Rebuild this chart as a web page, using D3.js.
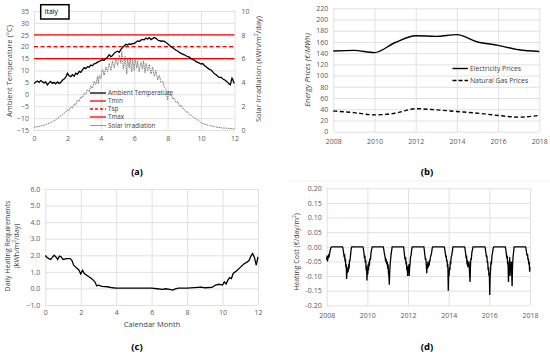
<!DOCTYPE html>
<html>
<head>
<meta charset="utf-8">
<script src="https://cdn.jsdelivr.net/npm/d3@7"></script>
<style>
  body { margin: 0; background: #fff; }
  svg text { font-family: "Open Sans", "Noto Sans", sans-serif; }
</style>
</head>
<body>
<div id="chart"></div>
<script>
// (a) ambient temperature and solar irradiation, Italy (month, value)
var tempData = [
  [0.0,4.5],[0.1,5.2],[0.2,5.6],[0.3,5.0],[0.4,5.8],[0.5,5.3],[0.6,4.8],[0.7,5.2],[0.8,4.0],[0.9,4.8],
  [1.0,5.4],[1.1,4.6],[1.2,5.0],[1.3,4.4],[1.4,5.2],[1.5,4.6],[1.6,5.0],[1.7,5.9],[1.8,6.4],[1.9,7.2],
  [2.0,8.8],[2.1,7.8],[2.2,7.4],[2.3,8.2],[2.4,7.6],[2.5,8.9],[2.6,8.4],[2.7,9.6],[2.8,9.2],[2.9,10.3],
  [3.0,11.2],[3.1,10.8],[3.2,11.6],[3.3,11.4],[3.4,12.3],[3.5,12.0],[3.6,12.8],[3.7,13.0],[3.8,13.5],[3.9,13.8],
  [4.0,14.2],[4.1,14.5],[4.2,14.3],[4.3,15.0],[4.4,15.6],[4.5,16.6],[4.6,15.8],[4.7,16.3],[4.8,17.2],[4.9,17.8],
  [5.0,18.1],[5.1,17.6],[5.2,18.9],[5.3,19.6],[5.4,20.4],[5.5,21.0],[5.6,20.7],[5.7,21.2],[5.8,20.9],[5.9,21.4],
  [6.0,21.3],[6.1,21.9],[6.2,22.4],[6.3,22.2],[6.4,22.8],[6.5,23.1],[6.6,22.9],[6.7,23.6],[6.8,23.2],[6.9,23.8],
  [7.0,23.0],[7.1,23.4],[7.2,23.9],[7.3,23.5],[7.4,22.8],[7.5,22.5],[7.6,22.3],[7.7,22.4],[7.8,22.2],[7.9,21.8],
  [8.0,21.2],[8.1,20.6],[8.2,20.0],[8.3,19.6],[8.4,19.0],[8.5,18.5],[8.6,18.2],[8.7,17.6],[8.8,17.2],[8.9,16.9],
  [9.0,16.6],[9.1,16.2],[9.2,15.8],[9.3,15.6],[9.4,15.0],[9.5,14.6],[9.6,14.4],[9.7,13.7],[9.8,13.4],[9.9,13.1],
  [10.0,12.7],[10.1,12.9],[10.2,12.1],[10.3,11.6],[10.4,11.0],[10.5,10.5],[10.6,10.2],[10.7,9.4],[10.8,8.6],[10.9,8.2],
  [11.0,7.6],[11.1,7.0],[11.2,7.2],[11.3,6.4],[11.4,6.1],[11.5,5.6],[11.6,5.0],[11.7,4.2],[11.75,4.0],[11.8,5.4],
  [11.85,6.8],[11.9,6.2],[11.95,5.0],[12.0,4.6]
];
var solarData = [
  [0.0,0.22],[0.3,0.3],[0.6,0.4],[1.0,0.62],[1.3,0.85],[1.5,1.1],[1.7,1.3],[1.9,1.5],[2.0,1.75],[2.1,1.6],
  [2.2,1.95],[2.3,1.85],[2.4,2.2],[2.5,2.1],[2.6,2.5],[2.7,2.4],[2.8,2.8],[2.9,2.7],[3.0,3.1],[3.1,3.0],
  [3.2,3.4],[3.3,3.2],[3.4,3.7],[3.5,3.5],[3.6,4.1],[3.7,3.8],[3.8,4.5],[3.85,3.9],[3.9,4.6],[4.0,4.3],
  [4.1,5.1],[4.2,4.6],[4.3,5.3],[4.4,4.9],[4.5,5.6],[4.6,5.0],[4.7,5.8],[4.8,5.2],[4.9,6.0],[5.0,5.4],
  [5.1,6.3],[5.2,5.6],[5.25,6.6],[5.35,5.1],[5.45,6.2],[5.55,4.7],[5.6,6.0],[5.7,5.2],[5.75,6.1],[5.85,4.9],
  [5.9,5.9],[6.0,5.0],[6.05,6.0],[6.15,5.2],[6.2,5.8],[6.3,4.9],[6.4,5.7],[6.5,5.1],[6.55,5.8],[6.65,4.8],
  [6.7,5.6],[6.8,5.0],[6.9,5.5],[7.0,4.7],[7.1,5.3],[7.2,4.5],[7.3,5.0],[7.4,4.2],[7.5,4.6],[7.6,4.0],
  [7.7,4.1],[7.8,3.6],[7.9,3.4],[8.0,2.5],[8.05,3.3],[8.1,2.9],[8.2,3.0],[8.3,2.6],[8.4,2.7],[8.5,2.3],
  [8.6,2.4],[8.7,2.0],[8.8,2.1],[8.9,1.8],[9.0,1.75],[9.1,1.5],[9.2,1.55],[9.3,1.3],[9.4,1.25],[9.5,1.1],
  [9.6,1.05],[9.8,0.85],[10.0,0.6],[10.2,0.5],[10.5,0.38],[10.8,0.28],[11.0,0.22],[11.3,0.17],[11.6,0.14],[12.0,0.1]
];
var tMin = 15, tSp = 20, tMax = 25;
var legendA = ["Ambient Temperature", "Tmin", "Tsp", "Tmax", "Solar Irradiation"];

// (b) energy prices
var years = [2008, 2009, 2010, 2011, 2012, 2013, 2014, 2015, 2016, 2017, 2018];
var elecPrices = [144, 145, 141, 159, 171, 170, 173, 160, 154, 146, 143];
var gasPrices = [37, 34, 30, 33, 41, 39, 36, 33, 29, 26, 29];
var legendB = ["Electricity Prices", "Natural Gas Prices"];

// (c) daily heating requirements (month, kWh/m2/day)
var heatData = [
  [0.0,1.99],[0.1,1.87],[0.2,1.8],[0.3,1.75],[0.4,1.87],[0.5,2.0],[0.6,1.9],[0.7,1.75],[0.8,1.95],[0.9,1.9],
  [1.0,1.75],[1.2,1.8],[1.4,1.8],[1.5,1.7],[1.6,1.4],[1.7,1.3],[1.8,1.2],[1.9,1.1],[2.0,0.87],[2.1,1.1],
  [2.2,0.9],[2.4,0.75],[2.6,0.6],[2.7,0.5],[2.8,0.4],[2.9,0.15],[3.0,0.2],[3.2,0.12],[3.5,0.1],[3.8,0.04],
  [4.0,0.02],[5.0,0.02],[6.0,0.02],[6.3,-0.02],[6.6,-0.06],[6.8,-0.02],[7.0,-0.06],[7.2,-0.1],[7.3,-0.04],[7.5,0.02],
  [8.0,0.02],[8.8,0.08],[9.0,0.04],[9.4,0.06],[9.6,0.2],[9.8,0.25],[10.0,0.2],[10.1,0.4],[10.2,0.27],[10.3,0.5],
  [10.4,0.65],[10.5,0.6],[10.6,0.9],[10.8,1.07],[11.0,1.27],[11.2,1.47],[11.4,1.6],[11.5,1.7],[11.6,1.95],[11.7,2.1],
  [11.8,1.87],[11.9,1.4],[12.0,1.9]
];

// (d) heating cost (year, EUR/day/m2)
var costData = [
  [2008.00,-0.045],[2008.02,-0.03],[2008.04,-0.05],[2008.06,-0.035],[2008.08,-0.04],[2008.10,-0.025],[2008.12,-0.035],[2008.15,-0.02],[2008.18,-0.01],[2008.21,-0.002],[2008.25,0],[2008.78,0],
  [2008.80,-0.005],[2008.83,-0.02],[2008.86,-0.035],[2008.88,-0.025],[2008.90,-0.05],[2008.92,-0.04],[2008.94,-0.07],[2008.96,-0.06],[2008.98,-0.11],[2009.00,-0.075],[2009.02,-0.09],[2009.04,-0.07],[2009.06,-0.085],[2009.08,-0.06],[2009.10,-0.075],[2009.12,-0.045],[2009.14,-0.05],[2009.17,-0.03],[2009.20,-0.01],[2009.23,0],[2009.78,0],
  [2009.80,-0.005],[2009.83,-0.02],[2009.86,-0.04],[2009.88,-0.03],[2009.90,-0.055],[2009.92,-0.045],[2009.94,-0.08],[2009.96,-0.065],[2009.98,-0.115],[2010.00,-0.08],[2010.02,-0.095],[2010.04,-0.06],[2010.06,-0.08],[2010.08,-0.05],[2010.10,-0.065],[2010.12,-0.04],[2010.15,-0.045],[2010.18,-0.02],[2010.21,-0.01],[2010.24,0],[2010.78,0],
  [2010.80,-0.005],[2010.83,-0.02],[2010.86,-0.03],[2010.89,-0.045],[2010.92,-0.04],[2010.95,-0.06],[2010.98,-0.05],[2011.00,-0.075],[2011.02,-0.06],[2011.04,-0.09],[2011.06,-0.1],[2011.08,-0.13],[2011.10,-0.085],[2011.12,-0.06],[2011.14,-0.045],[2011.16,-0.03],[2011.19,-0.015],[2011.22,0],[2011.78,0],
  [2011.80,-0.01],[2011.83,-0.03],[2011.86,-0.045],[2011.88,-0.035],[2011.90,-0.06],[2011.92,-0.05],[2011.94,-0.08],[2011.96,-0.065],[2011.98,-0.1],[2012.00,-0.07],[2012.02,-0.09],[2012.04,-0.06],[2012.06,-0.1],[2012.08,-0.07],[2012.10,-0.06],[2012.12,-0.035],[2012.15,-0.03],[2012.18,-0.01],[2012.21,0],[2012.78,0],
  [2012.80,-0.01],[2012.83,-0.03],[2012.86,-0.045],[2012.88,-0.04],[2012.90,-0.065],[2012.92,-0.09],[2012.94,-0.06],[2012.96,-0.075],[2012.98,-0.05],[2013.00,-0.07],[2013.02,-0.055],[2013.04,-0.065],[2013.06,-0.045],[2013.08,-0.05],[2013.10,-0.035],[2013.13,-0.03],[2013.16,-0.02],[2013.19,-0.005],[2013.22,0],[2013.78,0],
  [2013.80,-0.005],[2013.83,-0.02],[2013.86,-0.035],[2013.88,-0.03],[2013.90,-0.05],[2013.92,-0.045],[2013.94,-0.07],[2013.96,-0.06],[2013.98,-0.15],[2014.00,-0.09],[2014.02,-0.1],[2014.04,-0.07],[2014.06,-0.08],[2014.08,-0.05],[2014.10,-0.06],[2014.12,-0.035],[2014.15,-0.03],[2014.18,-0.015],[2014.21,0],[2014.78,0],
  [2014.80,-0.005],[2014.83,-0.02],[2014.86,-0.04],[2014.88,-0.03],[2014.90,-0.06],[2014.92,-0.045],[2014.94,-0.07],[2014.96,-0.055],[2014.98,-0.065],[2015.00,-0.05],[2015.02,-0.08],[2015.05,-0.12],[2015.07,-0.07],[2015.09,-0.04],[2015.11,-0.045],[2015.14,-0.02],[2015.17,-0.01],[2015.20,0],[2015.78,0],
  [2015.80,-0.005],[2015.83,-0.02],[2015.86,-0.035],[2015.88,-0.03],[2015.90,-0.055],[2015.92,-0.05],[2015.94,-0.08],[2015.96,-0.07],[2015.98,-0.1],[2016.00,-0.09],[2016.02,-0.165],[2016.04,-0.1],[2016.06,-0.08],[2016.08,-0.05],[2016.10,-0.06],[2016.13,-0.03],[2016.16,-0.02],[2016.19,-0.005],[2016.22,0],[2016.78,0],
  [2016.80,-0.005],[2016.83,-0.02],[2016.86,-0.04],[2016.88,-0.03],[2016.90,-0.06],[2016.92,-0.05],[2016.94,-0.12],[2016.96,-0.07],[2016.98,-0.09],[2017.00,-0.035],[2017.02,-0.1],[2017.04,-0.06],[2017.06,-0.08],[2017.08,-0.05],[2017.10,-0.09],[2017.12,-0.135],[2017.14,-0.07],[2017.16,-0.04],[2017.19,-0.02],[2017.22,0],[2017.78,0],
  [2017.80,-0.005],[2017.83,-0.02],[2017.86,-0.03],[2017.88,-0.025],[2017.90,-0.045],[2017.92,-0.04],[2017.94,-0.06],[2017.96,-0.05],[2017.98,-0.085],[2018.00,-0.07]
];

var monthTicks = [0, 2, 4, 6, 8, 10, 12];
var yearTicks = [2008, 2010, 2012, 2014, 2016, 2018];

var svg = d3.select('#chart').append('svg')
    .attr('width', 550)
    .attr('height', 356);

var gridColor = '#d9d9d9';
var labelColor = '#595959';

// gridlines + tick labels for one panel
function gridAxes(g, xScale, yScale, xTicks, yTicks, yFmt, xPad) {
    var w = xScale.range()[1] - xScale.range()[0];
    var h = yScale.range()[0] - yScale.range()[1];
    var yAxis = g.append('g')
        .attr('transform', `translate(${xScale.range()[0]},0)`)
        .call(d3.axisLeft(yScale).tickValues(yTicks).tickSize(-w).tickPadding(5).tickFormat(yFmt));
    var xAxis = g.append('g')
        .attr('transform', `translate(0,${yScale.range()[0]})`)
        .call(d3.axisBottom(xScale).tickValues(xTicks).tickSize(-h).tickPadding(xPad).tickFormat(d3.format('d')));
    [xAxis, yAxis].forEach(function(a) {
        a.select('.domain').remove();
        a.selectAll('line').attr('stroke', gridColor).attr('stroke-width', 0.8);
        a.selectAll('text').attr('fill', labelColor).attr('font-size', '7px');
    });
}

// ---------- panel (a) ----------
var gA = svg.append('g');
var xA = d3.scaleLinear().domain([0, 12]).range([34, 234.5]);
var yT = d3.scaleLinear().domain([-15, 35]).range([130, 11]);
var yS = d3.scaleLinear().domain([0, 10]).range([130, 11]);
gridAxes(gA, xA, yT, monthTicks, d3.range(-15, 36, 5), d3.format('d'), 6.5);

var rightAxis = gA.append('g')
    .attr('transform', `translate(${xA.range()[1]},0)`)
    .call(d3.axisRight(yS).tickValues([0, 2, 4, 6, 8, 10]).tickSize(0).tickPadding(7));
rightAxis.select('.domain').remove();
rightAxis.selectAll('text').attr('fill', labelColor).attr('font-size', '7px');

gA.append('path')
    .datum(solarData)
    .attr('fill', 'none')
    .attr('stroke', '#7f7f7f')
    .attr('stroke-width', 1)
    .attr('stroke-dasharray', '1.6,0.8')
    .attr('d', d3.line().x(d => xA(d[0])).y(d => yS(d[1])));

[tMin, tSp, tMax].forEach(function(t, i) {
    gA.append('line')
        .attr('x1', xA(0)).attr('x2', xA(12))
        .attr('y1', yT(t)).attr('y2', yT(t))
        .attr('stroke', '#ff0000')
        .attr('stroke-width', 1.3)
        .attr('stroke-dasharray', i === 1 ? '4,2.5' : null);
});

gA.append('path')
    .datum(tempData)
    .attr('fill', 'none')
    .attr('stroke', '#000')
    .attr('stroke-width', 1.3)
    .attr('d', d3.line().x(d => xA(d[0])).y(d => yT(d[1])));

// legend (a)
var legStyles = [
    {c: '#000', w: 1.3, dash: null},
    {c: '#ff0000', w: 1.3, dash: null},
    {c: '#ff0000', w: 1.3, dash: '3,2'},
    {c: '#ff0000', w: 1.3, dash: null},
    {c: '#7f7f7f', w: 0.8, dash: null}
];
var legRowsA = [93, 101, 109, 117, 125.5];
legendA.forEach(function(name, i) {
    gA.append('line')
        .attr('x1', 90).attr('x2', 106)
        .attr('y1', legRowsA[i]).attr('y2', legRowsA[i])
        .attr('stroke', legStyles[i].c)
        .attr('stroke-width', legStyles[i].w)
        .attr('stroke-dasharray', legStyles[i].dash);
    gA.append('text')
        .attr('x', 108).attr('y', legRowsA[i] + 2.2)
        .attr('font-size', '6.3px')
        .attr('fill', '#404040')
        .text(name);
});

// Italy box
gA.append('rect')
    .attr('x', 40.7).attr('y', 4.7)
    .attr('width', 28.3).attr('height', 14.3)
    .attr('fill', '#fff')
    .attr('stroke', '#000')
    .attr('stroke-width', 1.5);
gA.append('text')
    .attr('x', 44.5).attr('y', 14.3)
    .attr('font-size', '7px')
    .text('Italy');

gA.append('text')
    .attr('transform', `translate(12,71) rotate(-90)`)
    .attr('text-anchor', 'middle')
    .attr('font-size', '7.5px')
    .attr('fill', '#404040')
    .text('Ambient Temperature (°C)');
gA.append('text')
    .attr('transform', `translate(261,69) rotate(-90)`)
    .attr('text-anchor', 'middle')
    .attr('font-size', '7.5px')
    .attr('fill', '#404040')
    .html('Solar Irradiation (kWh/m<tspan baseline-shift="super" font-size="5px">2</tspan>/day)');
gA.append('text')
    .attr('x', 137).attr('y', 175)
    .attr('text-anchor', 'middle')
    .attr('font-size', '9px')
    .attr('font-weight', 'bold')
    .text('(a)');

// ---------- panel (b) ----------
var gB = svg.append('g');
var xB = d3.scaleLinear().domain([2008, 2018]).range([333.3, 539.3]);
var yB = d3.scaleLinear().domain([0, 220]).range([131.7, 8.3]);
gridAxes(gB, xB, yB, yearTicks, d3.range(0, 221, 20), d3.format('d'), 7.5);

var lineB = d3.line().x((d, i) => xB(years[i])).y(d => yB(d)).curve(d3.curveMonotoneX);
gB.append('path')
    .datum(elecPrices)
    .attr('fill', 'none').attr('stroke', '#000').attr('stroke-width', 1.4)
    .attr('d', lineB);
gB.append('path')
    .datum(gasPrices)
    .attr('fill', 'none').attr('stroke', '#000').attr('stroke-width', 1.4)
    .attr('stroke-dasharray', '4,2.5')
    .attr('d', lineB);

var legRowsB = [68.5, 80.5];
legendB.forEach(function(name, i) {
    gB.append('line')
        .attr('x1', 452.5).attr('x2', 468)
        .attr('y1', legRowsB[i]).attr('y2', legRowsB[i])
        .attr('stroke', '#000').attr('stroke-width', 1.4)
        .attr('stroke-dasharray', i === 1 ? '4,2' : null);
    gB.append('text')
        .attr('x', 470).attr('y', legRowsB[i] + 2.5)
        .attr('font-size', '6.8px')
        .attr('fill', '#404040')
        .text(name);
});
gB.append('text')
    .attr('transform', `translate(310,70) rotate(-90)`)
    .attr('text-anchor', 'middle')
    .attr('font-size', '7.5px')
    .attr('font-style', 'italic')
    .attr('fill', '#404040')
    .text('Energy Prices (€/MWh)');
gB.append('text')
    .attr('x', 427).attr('y', 175)
    .attr('text-anchor', 'middle')
    .attr('font-family', '"Liberation Serif", serif')
    .attr('font-size', '9.5px')
    .attr('font-weight', 'bold')
    .text('(b)');

// ---------- panel (c) ----------
var gC = svg.append('g');
var xC = d3.scaleLinear().domain([0, 12]).range([45.3, 258]);
var yC = d3.scaleLinear().domain([-1, 6]).range([305, 189]);
gridAxes(gC, xC, yC, monthTicks, d3.range(-1, 7, 1), d3.format('.1f'), 5);
gC.append('path')
    .datum(heatData)
    .attr('fill', 'none').attr('stroke', '#000').attr('stroke-width', 1.3)
    .attr('d', d3.line().x(d => xC(d[0])).y(d => yC(d[1])));
gC.append('text')
    .attr('x', 152).attr('y', 327)
    .attr('text-anchor', 'middle')
    .attr('font-size', '7.5px')
    .attr('fill', '#404040')
    .text('Calendar Month');
gC.append('text')
    .attr('transform', `translate(10,246) rotate(-90)`)
    .attr('text-anchor', 'middle')
    .attr('font-size', '7px')
    .attr('fill', '#404040')
    .text('Daily Heating Requirements');
gC.append('text')
    .attr('transform', `translate(19,246) rotate(-90)`)
    .attr('text-anchor', 'middle')
    .attr('font-size', '7px')
    .attr('fill', '#404040')
    .html('(kWh/m<tspan baseline-shift="super" font-size="5px">2</tspan>/day)');
gC.append('text')
    .attr('x', 137).attr('y', 350)
    .attr('text-anchor', 'middle')
    .attr('font-family', '"Liberation Serif", serif')
    .attr('font-size', '9.5px')
    .attr('font-weight', 'bold')
    .text('(c)');

// ---------- panel (d) ----------
var gD = svg.append('g');
gD.append('line')
    .attr('x1', 288).attr('x2', 550).attr('y1', 181).attr('y2', 181)
    .attr('stroke', '#ececec').attr('stroke-width', 0.8);
var xD = d3.scaleLinear().domain([2008, 2018]).range([326.7, 530]);
var yD = d3.scaleLinear().domain([-0.2, 0.2]).range([305.3, 188.3]);
gridAxes(gD, xD, yD, yearTicks, d3.range(-4, 5).map(d => d * 0.05), d => d.toFixed(2), 7.5);
gD.append('path')
    .datum(costData)
    .attr('fill', 'none').attr('stroke', '#000').attr('stroke-width', 1.3)
    .attr('d', d3.line().x(d => xD(d[0])).y(d => yD(d[1])));
gD.append('text')
    .attr('transform', `translate(299,252) rotate(-90)`)
    .attr('text-anchor', 'middle')
    .attr('font-size', '7px')
    .attr('fill', '#404040')
    .html('Heating Cost (€/day/m<tspan baseline-shift="super" font-size="5px">2</tspan>)');
gD.append('text')
    .attr('x', 427).attr('y', 350)
    .attr('text-anchor', 'middle')
    .attr('font-family', '"Liberation Serif", serif')
    .attr('font-size', '9.5px')
    .attr('font-weight', 'bold')
    .text('(d)');
</script>
</body>
</html>
